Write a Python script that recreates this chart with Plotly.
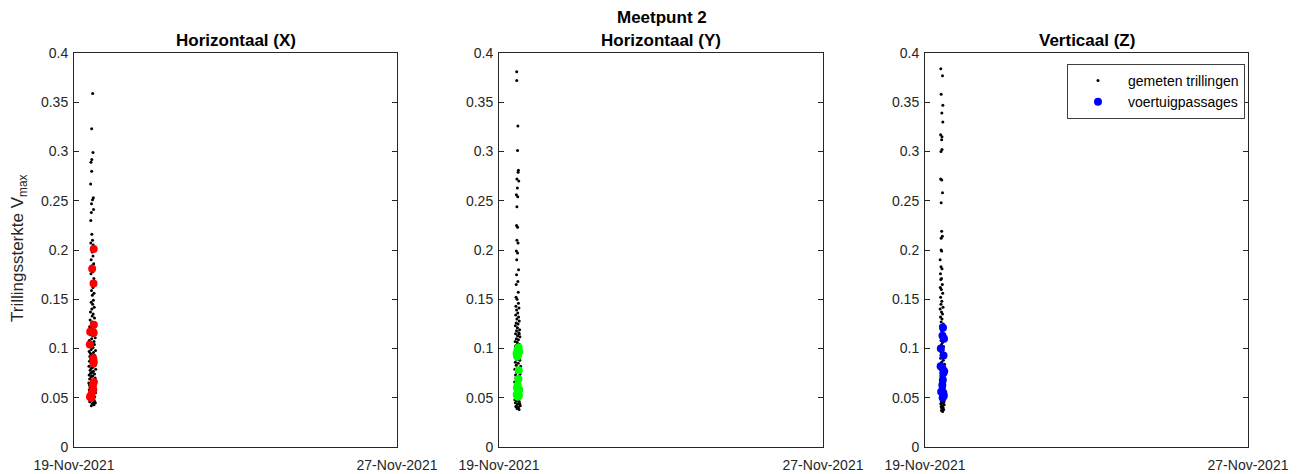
import pandas as pd
import plotly.graph_objects as go

# ---------------- data ----------------
start_date = "2021-11-19"
end_date = "2021-11-27"
x_tick_labels = ["19-Nov-2021", "27-Nov-2021"]
y_ticks = [0, 0.05, 0.1, 0.15, 0.2, 0.25, 0.3, 0.35, 0.4]
y_tick_labels = ["0", "0.05", "0.1", "0.15", "0.2", "0.25", "0.3", "0.35", "0.4"]
panel_titles = ["Horizontaal (X)", "Horizontaal (Y)", "Verticaal (Z)"]

# Panel X: measured vibrations (hours after 19-Nov 00:00, value)
x_meas_hours = [11.1, 10.5, 11.3, 10.6, 10.1, 10.5, 9.9, 11.5, 11.0, 10.4, 11.6, 10.3, 10.0, 10.6, 11.0, 10.0,
                11.4, 10.8, 11.3, 10.2, 11.7, 10.6, 11.2, 10.1, 11.8, 10.7, 11.3, 10.4, 11.9, 10.9, 11.5, 10.2,
                11.1, 12.0, 10.6, 9.8, 11.4, 10.8, 12.2, 9.6, 11.0, 10.3, 11.7, 9.3, 10.9, 12.4, 10.1, 11.5,
                9.7, 11.1, 12.6, 10.5, 9.1, 11.9, 10.7, 12.1, 9.5, 11.3, 10.2, 12.8, 9.0, 11.6, 10.4, 12.3,
                9.4, 11.0, 10.0, 12.7, 9.2, 11.8, 10.6, 12.5, 8.9, 11.2, 10.3, 12.9, 9.6, 11.5, 10.8, 12.2,
                9.0, 11.1, 10.1, 12.6, 9.3, 11.7, 10.5, 13.0, 8.8, 11.4, 10.0, 12.4, 9.5, 10.9, 12.0, 9.1,
                11.6, 10.4, 12.8, 8.9, 11.2, 10.2, 12.3, 9.7, 11.0, 10.6, 12.1, 9.4, 11.5, 10.8, 11.9, 10.3,
                9.8, 12.0, 10.9, 9.9, 12.3, 11.3, 10.7, 11.8, 9.6, 12.5, 10.5, 11.4, 9.2, 12.7, 10.0]
x_meas_vals = [0.359, 0.323, 0.299, 0.292, 0.289, 0.280, 0.267, 0.253, 0.251, 0.247, 0.241, 0.238, 0.230, 0.216, 0.210, 0.207,
               0.205, 0.198, 0.194, 0.190, 0.186, 0.184, 0.178, 0.176, 0.171, 0.168, 0.162, 0.159, 0.156, 0.154, 0.149, 0.147,
               0.145, 0.142, 0.140, 0.137, 0.135, 0.133, 0.131, 0.129, 0.127, 0.126, 0.124, 0.122, 0.121, 0.119, 0.118, 0.116,
               0.114, 0.113, 0.111, 0.110, 0.108, 0.107, 0.105, 0.104, 0.102, 0.101, 0.099, 0.098, 0.097, 0.096, 0.094, 0.093,
               0.092, 0.091, 0.089, 0.088, 0.087, 0.086, 0.085, 0.083, 0.082, 0.081, 0.080, 0.079, 0.078, 0.077, 0.076, 0.074,
               0.073, 0.072, 0.071, 0.070, 0.069, 0.068, 0.067, 0.066, 0.065, 0.064, 0.063, 0.062, 0.061, 0.060, 0.059, 0.058,
               0.057, 0.056, 0.055, 0.054, 0.053, 0.052, 0.051, 0.050, 0.049, 0.048, 0.047, 0.046, 0.045, 0.044, 0.043, 0.042,
               0.095, 0.090, 0.084, 0.075, 0.068, 0.058, 0.053, 0.049, 0.047, 0.058, 0.072, 0.087, 0.063, 0.045, 0.056]
# Panel X: vehicle passages
x_veh_hours = [11.7, 10.8, 11.6, 11.8, 9.6, 11.7, 9.4, 11.4, 11.7, 11.6, 11.8, 11.2, 11.5, 10.6, 9.5, 10.2]
x_veh_vals = [0.201, 0.181, 0.166, 0.124, 0.117, 0.116, 0.104, 0.090, 0.087, 0.085, 0.066, 0.063, 0.058, 0.055, 0.051, 0.050]

# Panel Y: measured vibrations
y_meas_hours = [10.5, 10.5, 11.2, 11.0, 11.5, 11.3, 10.6, 11.7, 10.9, 10.3, 11.1, 10.6, 10.4, 11.0, 10.6, 11.3,
                10.3, 11.0, 10.5, 11.6, 10.4, 11.2, 10.2, 11.4, 10.1, 10.7, 11.5, 10.0, 11.8, 10.4, 11.1, 9.9,
                11.6, 10.6, 12.0, 10.2, 11.3, 9.7, 10.9, 12.2, 10.4, 11.7, 9.8, 11.0, 12.4, 10.3, 11.5, 9.6,
                10.8, 12.1, 10.1, 11.3, 9.9, 12.6, 10.6, 11.9, 9.5, 11.1, 10.4, 12.3, 9.7, 11.4, 10.2, 12.8,
                10.8, 9.4, 11.7, 10.5, 12.5, 9.8, 11.2, 10.0, 12.9, 10.7, 9.3, 11.6, 10.3, 12.2, 9.6, 11.0,
                10.6, 12.7, 9.5, 11.3, 10.1, 12.4, 9.9, 11.8, 10.4, 12.0, 9.7, 11.1, 10.8, 12.6, 10.2, 11.5,
                10.7, 11.9, 10.0, 12.3, 9.4, 11.4, 10.9, 12.1, 10.3, 11.6, 9.8, 12.0]
y_meas_vals = [0.381, 0.372, 0.326, 0.301, 0.281, 0.279, 0.272, 0.270, 0.263, 0.256, 0.254, 0.244, 0.225, 0.223, 0.210, 0.207,
               0.199, 0.197, 0.190, 0.180, 0.175, 0.168, 0.165, 0.157, 0.152, 0.150, 0.146, 0.143, 0.141, 0.139, 0.136, 0.134,
               0.132, 0.130, 0.128, 0.126, 0.125, 0.123, 0.121, 0.119, 0.118, 0.116, 0.115, 0.113, 0.112, 0.110, 0.109, 0.107,
               0.106, 0.104, 0.103, 0.101, 0.099, 0.098, 0.096, 0.094, 0.092, 0.091, 0.089, 0.088, 0.086, 0.085, 0.083, 0.082,
               0.080, 0.079, 0.077, 0.076, 0.074, 0.073, 0.071, 0.070, 0.069, 0.067, 0.066, 0.064, 0.063, 0.061, 0.060, 0.058,
               0.057, 0.056, 0.054, 0.053, 0.051, 0.050, 0.049, 0.048, 0.047, 0.046, 0.045, 0.044, 0.043, 0.042, 0.041, 0.040,
               0.039, 0.038, 0.041, 0.044, 0.048, 0.055, 0.062, 0.072, 0.078, 0.093, 0.102, 0.115]
# Panel Y: vehicle passages
y_veh_hours = [11.6, 11.0, 12.0, 10.4, 11.3, 10.8, 11.7, 11.5, 11.0, 10.6, 12.0, 11.3, 10.5, 11.8, 11.1]
y_veh_vals = [0.101, 0.099, 0.097, 0.095, 0.093, 0.092, 0.078, 0.069, 0.063, 0.060, 0.058, 0.056, 0.053, 0.052, 0.051]

# Panel Z: measured vibrations
z_meas_hours = [9.4, 10.4, 9.6, 10.6, 10.0, 10.6, 9.3, 10.1, 9.9, 10.1, 9.5, 9.3, 10.0, 10.4, 9.6, 9.9,
                10.3, 9.6, 9.6, 9.9, 9.0, 9.5, 10.1, 9.2, 9.8, 9.4, 10.3, 9.1, 9.7, 10.5, 9.3, 10.0,
                9.5, 10.7, 9.0, 9.8, 10.4, 9.2, 10.1, 9.6, 10.9, 9.3, 10.2, 9.9,
                10.6, 9.1, 10.0, 11.2, 9.5, 10.4, 9.8, 11.0, 9.2, 10.7, 9.6, 11.4, 10.1, 9.3, 10.9, 9.9,
                11.6, 9.0, 10.3, 11.1, 9.7, 10.5, 9.4, 11.3, 10.0, 9.2, 10.8, 9.8, 11.5, 10.2, 9.5, 11.0,
                9.9, 10.6, 9.3, 11.2, 10.1, 9.7, 10.9, 9.4, 11.4, 10.4, 9.6, 10.7, 10.0, 11.1, 9.8, 10.5,
                10.3, 11.7, 9.1, 10.2, 11.8, 9.5, 10.8, 10.1, 11.3]
z_meas_vals = [0.384, 0.377, 0.358, 0.347, 0.339, 0.330, 0.317, 0.315, 0.312, 0.302, 0.300, 0.272, 0.271, 0.258, 0.248, 0.219,
               0.214, 0.212, 0.200, 0.199, 0.190, 0.183, 0.181, 0.176, 0.171, 0.170, 0.165, 0.162, 0.160, 0.156, 0.152, 0.148,
               0.145, 0.142, 0.140, 0.137, 0.135, 0.132, 0.130, 0.127, 0.125, 0.123, 0.121, 0.118,
               0.116, 0.114, 0.112, 0.110, 0.108, 0.106, 0.104, 0.102, 0.100, 0.098, 0.096, 0.094, 0.092, 0.090, 0.088, 0.086,
               0.084, 0.082, 0.080, 0.078, 0.076, 0.074, 0.072, 0.070, 0.068, 0.066, 0.064, 0.062, 0.060, 0.058, 0.056, 0.054,
               0.052, 0.050, 0.049, 0.048, 0.047, 0.046, 0.045, 0.044, 0.043, 0.042, 0.041, 0.040, 0.039, 0.038, 0.037, 0.036,
               0.053, 0.057, 0.061, 0.071, 0.075, 0.085, 0.091, 0.041, 0.046]
# Panel Z: vehicle passages
z_veh_hours = [10.7, 10.4, 11.3, 9.4, 11.0, 9.3, 10.4, 11.4, 10.9, 10.6, 10.3, 9.6, 10.9, 11.2, 10.5]
z_veh_vals = [0.121, 0.113, 0.110, 0.100, 0.093, 0.082, 0.080, 0.077, 0.075, 0.068, 0.063, 0.056, 0.055, 0.052, 0.050]

veh_colors = ["#ff0000", "#00ff00", "#0000ff"]


def to_time(hours):
    return pd.Timestamp(start_date) + pd.to_timedelta(hours, unit="h")


# ---------------- figure ----------------
W, H = 1304, 474
fig = go.Figure()

panels = [
    (x_meas_hours, x_meas_vals, x_veh_hours, x_veh_vals),
    (y_meas_hours, y_meas_vals, y_veh_hours, y_veh_vals),
    (z_meas_hours, z_meas_vals, z_veh_hours, z_veh_vals),
]
x_px = [(74, 397), (499, 823), (925, 1248)]
top_px, bot_px = 53, 447
axis_color = "#262626"
font_family = "Liberation Sans, Arial, Helvetica, sans-serif"

for i, (mh, mv, vh, vv) in enumerate(panels):
    xa = "x" if i == 0 else f"x{i+1}"
    ya = "y" if i == 0 else f"y{i+1}"
    fig.add_trace(go.Scatter(
        x=to_time(mh), y=mv, mode="markers", xaxis=xa, yaxis=ya,
        marker=dict(color="black", size=3), name="gemeten trillingen",
        showlegend=(i == 2), hoverinfo="skip"))
    fig.add_trace(go.Scatter(
        x=to_time(vh), y=vv, mode="markers", xaxis=xa, yaxis=ya,
        marker=dict(color=veh_colors[i], size=8), name="voertuigpassages",
        showlegend=(i == 2), hoverinfo="skip"))

    xdom = [x_px[i][0] / W, x_px[i][1] / W]
    ydom = [1 - bot_px / H, 1 - top_px / H]
    xkey = "xaxis" if i == 0 else f"xaxis{i+1}"
    ykey = "yaxis" if i == 0 else f"yaxis{i+1}"
    fig.layout[xkey] = dict(
        domain=xdom, anchor=ya, type="date", range=[start_date, end_date],
        tickvals=[start_date, end_date], ticktext=x_tick_labels, automargin=False,
        showline=True, linecolor=axis_color, linewidth=1, mirror="ticks",
        ticks="inside", ticklen=5, tickcolor=axis_color, showgrid=False, zeroline=False,
        ticklabelstandoff=5,
        tickfont=dict(size=14, color=axis_color, family=font_family))
    fig.layout[ykey] = dict(
        domain=ydom, anchor=xa, range=[0, 0.4], automargin=False,
        tickvals=y_ticks, ticktext=y_tick_labels,
        showline=True, linecolor=axis_color, linewidth=1, mirror="ticks",
        ticks="inside", ticklen=5, tickcolor=axis_color, showgrid=False, zeroline=False,
        ticklabelstandoff=2,
        tickfont=dict(size=14, color=axis_color, family=font_family))
    fig.add_annotation(
        text=f"<b>{panel_titles[i]}</b>", xref="paper", yref="paper",
        x=(xdom[0] + xdom[1]) / 2, y=1 - 41 / H, xanchor="center", yanchor="middle",
        showarrow=False, font=dict(size=17, color="black", family=font_family))

fig.add_annotation(
    text="<b>Meetpunt 2</b>", xref="paper", yref="paper",
    x=662 / W, y=1 - 18 / H, xanchor="center", yanchor="middle",
    showarrow=False, font=dict(size=17, color="black", family=font_family))
fig.add_annotation(
    text="Trillingssterkte V<sub>max</sub>", xref="paper", yref="paper",
    x=19 / W, y=1 - 248 / H, xanchor="center", yanchor="middle", textangle=-90,
    showarrow=False, font=dict(size=17, color=axis_color, family=font_family))

fig.update_layout(
    width=W, height=H, margin=dict(l=0, r=0, t=0, b=0, autoexpand=False),
    paper_bgcolor="white", plot_bgcolor="white",
    font=dict(family=font_family, color=axis_color),
    legend=dict(x=1245 / W, y=1 - 64 / H, xanchor="right", yanchor="top",
                bgcolor="white", bordercolor="#404040", borderwidth=1,
                font=dict(size=14, color="black", family=font_family),
                itemsizing="trace", itemwidth=50, tracegroupgap=0),
)

fig.write_html("out.html")
